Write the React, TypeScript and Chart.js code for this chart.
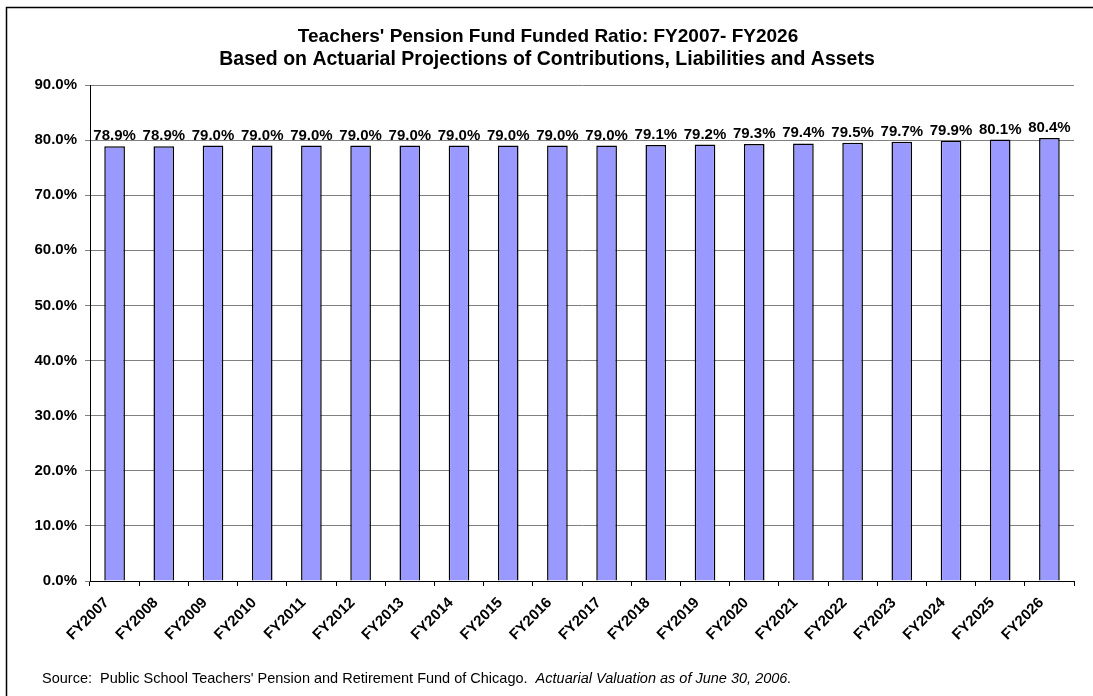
import React, { useEffect, useRef } from "react";
import { Chart, registerables } from "chart.js";

Chart.register(...registerables);

const categories = ["FY2007","FY2008","FY2009","FY2010","FY2011","FY2012","FY2013","FY2014","FY2015","FY2016","FY2017","FY2018","FY2019","FY2020","FY2021","FY2022","FY2023","FY2024","FY2025","FY2026"];
const fundedRatio = [78.9,78.9,79.0,79.0,79.0,79.0,79.0,79.0,79.0,79.0,79.0,79.1,79.2,79.3,79.4,79.5,79.7,79.9,80.1,80.4];
const titleLines = ["Teachers' Pension Fund Funded Ratio: FY2007- FY2026", "Based on Actuarial Projections of Contributions, Liabilities and Assets"];
const sourceText = "Source:  Public School Teachers' Pension and Retirement Fund of Chicago.  ";
const sourceItalic = "Actuarial Valuation as of June 30, 2006.";

const FONT = "'Liberation Sans', Arial, sans-serif";

export default function App() {
  const ref = useRef<HTMLCanvasElement>(null);
  useEffect(() => {
    const canvas = ref.current!;
    const decor = {
      id: "decor",
      beforeDraw(chart: any) {
        const ctx = chart.ctx;
        ctx.save();
        ctx.fillStyle = "#fff";
        ctx.fillRect(0, 0, chart.width, chart.height);
        ctx.restore();
      },
      afterDraw(chart: any) {
        const ctx = chart.ctx;
        ctx.save();
        ctx.strokeStyle = "#000";
        ctx.lineWidth = 1.5;
        ctx.strokeRect(6.5, 7.5, 1200, 800);
        ctx.fillStyle = "#000";
        ctx.textAlign = "center";
        ctx.textBaseline = "middle";
        ctx.font = `bold 19px ${FONT}`;
        ctx.fillText(titleLines[0], 548, 37);
        ctx.font = `bold 19.5px ${FONT}`;
        ctx.fillText(titleLines[1], 547, 60);
        // data labels
        const meta = chart.getDatasetMeta(0);
        ctx.font = `bold 15px ${FONT}`;
        ctx.textBaseline = "alphabetic";
        meta.data.forEach((bar: any, i: number) => {
          ctx.fillText(fundedRatio[i].toFixed(1) + "%", bar.x, bar.y - 6);
        });
        // source
        ctx.font = `14.5px ${FONT}`;
        ctx.textAlign = "left";
        ctx.textBaseline = "middle";
        ctx.fillText(sourceText, 42, 679);
        const w = ctx.measureText(sourceText).width;
        ctx.font = `italic 14.5px ${FONT}`;
        ctx.fillText(sourceItalic, 42 + w, 679);
        ctx.restore();
      },
    };
    const chart = new Chart(canvas, {
      type: "bar",
      data: {
        labels: categories,
        datasets: [{
          data: fundedRatio,
          backgroundColor: "#9999FF",
          borderColor: "#000",
          borderWidth: 1.5,
          barPercentage: 0.42,
          categoryPercentage: 1,
        }],
      },
      options: {
        animation: false,
        responsive: false,
        maintainAspectRatio: false,
        layout: { padding: { left: 10, right: 19, top: 85, bottom: 45 } },
        plugins: { legend: { display: false }, tooltip: { enabled: false }, title: { display: false } },
        scales: {
          x: {
            grid: { display: true, drawOnChartArea: false, offset: true, color: "#000", tickLength: 5 },
            border: { color: "#000", width: 1 },
            ticks: { color: "#000", font: { family: FONT, size: 15, weight: "bold" }, maxRotation: 45, minRotation: 45, padding: 8, labelOffset: -8 },
            afterFit(scale: any) { scale.height = 70; },
          },
          y: {
            min: 0, max: 90,
            grid: { color: "#808080", tickLength: 5 },
            border: { color: "#000", width: 1 },
            ticks: { stepSize: 10, color: "#000", font: { family: FONT, size: 15, weight: "bold" }, padding: 8, callback: (v: any) => Number(v).toFixed(1) + "%" },
            afterFit(scale: any) { scale.width = 80; },
          },
        },
      },
      plugins: [decor],
    } as any);
    return () => chart.destroy();
  }, []);
  return (
    <div style={{ position: "absolute", left: 0, top: 0, width: 1093, height: 696 }}>
      <canvas ref={ref} width={1093} height={696} style={{ display: "block" }} />
    </div>
  );
}
